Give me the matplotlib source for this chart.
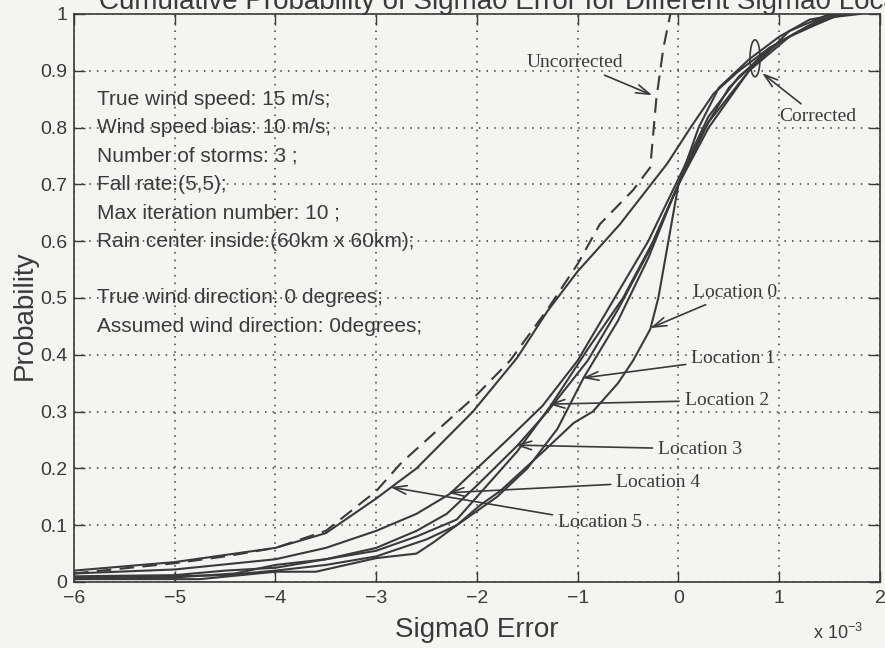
import matplotlib
matplotlib.use("Agg")
import matplotlib.pyplot as plt
from matplotlib.patches import Ellipse

# sigma0 error in units of 1e-3, cumulative probability
unc_x = [-6, -5, -4.5, -4, -3.5, -3, -2.75, -2.5, -2, -1.67, -1.3, -1.0, -0.78, -0.45, -0.28, -0.22, -0.15, -0.08]
unc_y = [0.015, 0.033, 0.045, 0.06, 0.09, 0.16, 0.21, 0.25, 0.33, 0.39, 0.48, 0.56, 0.63, 0.69, 0.73, 0.85, 0.94, 1.0]

loc0_x = [-6, -4.75, -4, -3.6, -3, -2.6, -2.43, -2.2, -1.97, -1.77, -1.34, -1.04, -0.85, -0.6, -0.45, -0.28, -0.2, -0.1, 0.0, 0.2, 0.4, 0.7, 1.0, 1.3, 1.6]
loc0_y = [0.005, 0.005, 0.018, 0.018, 0.042, 0.05, 0.07, 0.1, 0.135, 0.16, 0.23, 0.28, 0.3, 0.35, 0.39, 0.445, 0.5, 0.6, 0.7, 0.8, 0.87, 0.92, 0.96, 0.99, 1.0]

loc1_x = [-6, -5, -4.5, -4, -3.5, -3, -2.5, -2.2, -1.8, -1.5, -1.2, -0.94, -0.6, -0.3, -0.05, 0.2, 0.5, 0.9, 1.3, 1.6]
loc1_y = [0.008, 0.01, 0.012, 0.02, 0.03, 0.045, 0.075, 0.1, 0.15, 0.2, 0.27, 0.36, 0.46, 0.57, 0.68, 0.78, 0.87, 0.94, 0.98, 1.0]

loc2_x = [-6, -5, -4.4, -4, -3.5, -3, -2.6, -2.2, -1.9, -1.6, -1.27, -0.9, -0.55, -0.25, 0.0, 0.3, 0.7, 1.1, 1.5]
loc2_y = [0.005, 0.008, 0.015, 0.03, 0.04, 0.055, 0.08, 0.11, 0.17, 0.23, 0.31, 0.41, 0.5, 0.6, 0.7, 0.8, 0.9, 0.97, 1.0]

loc3_x = [-6, -5, -4.5, -4, -3.5, -3, -2.6, -2.3, -2.0, -1.6, -1.3, -0.9, -0.6, -0.3, 0.0, 0.3, 0.7, 1.1, 1.6]
loc3_y = [0.01, 0.012, 0.02, 0.025, 0.04, 0.06, 0.09, 0.12, 0.17, 0.24, 0.3, 0.39, 0.48, 0.58, 0.7, 0.81, 0.9, 0.96, 1.0]

loc4_x = [-6, -5, -4, -3.5, -3, -2.6, -2.27, -2.0, -1.7, -1.35, -1.0, -0.7, -0.3, 0.0, 0.3, 0.6, 1.0, 1.4, 1.7]
loc4_y = [0.015, 0.022, 0.04, 0.06, 0.09, 0.12, 0.155, 0.2, 0.25, 0.31, 0.39, 0.48, 0.6, 0.71, 0.82, 0.89, 0.95, 0.99, 1.0]

loc5_x = [-6, -5, -4, -3.5, -3, -2.6, -2.04, -1.6, -1.3, -1.0, -0.58, -0.11, 0.12, 0.35, 0.6, 0.9, 1.2, 1.55, 1.8]
loc5_y = [0.02, 0.035, 0.06, 0.086, 0.147, 0.2, 0.3, 0.395, 0.477, 0.547, 0.63, 0.737, 0.80, 0.86, 0.9, 0.94, 0.97, 0.995, 1.0]

info_lines = ["True wind speed: 15 m/s;", "Wind speed bias: 10 m/s;", "Number of storms: 3 ;",
              "Fall rate:(5,5);", "Max iteration number: 10 ;", "Rain center inside:(60km x 60km);",
              "True wind direction: 0 degrees;", "Assumed wind direction: 0degrees;"]
info_y = [0.85, 0.80, 0.75, 0.70, 0.65, 0.60, 0.50, 0.45]

# label text position, arrow head position
loc_labels = ["Location 0", "Location 1", "Location 2", "Location 3", "Location 4", "Location 5"]
label_xy = [(0.56, 0.51), (0.545, 0.394), (0.48, 0.32), (0.215, 0.234), (-0.2, 0.176), (-0.78, 0.104)]
head_xy = [(-0.28, 0.447), (-0.955, 0.359), (-1.29, 0.313), (-1.62, 0.241), (-2.29, 0.157), (-2.86, 0.167)]

ink = '#3a3a3a'
bg = '#f4f4f2'
plt.rcParams['font.family'] = ['Liberation Sans', 'DejaVu Sans']

fig = plt.figure(figsize=(8.85, 6.48), dpi=100, facecolor=bg)
ax = fig.add_axes([0.0836, 0.1019, 0.9107, 0.8765], facecolor=bg)

ax.plot(unc_x, unc_y, color=ink, lw=1.5, dashes=(7, 4))
for xs, ys in [(loc0_x, loc0_y), (loc1_x, loc1_y), (loc2_x, loc2_y),
               (loc3_x, loc3_y), (loc4_x, loc4_y), (loc5_x, loc5_y)]:
    ax.plot(xs, ys, color=ink, lw=1.5)

ax.set_xlim(-6, 2)
ax.set_ylim(0, 1)
ax.set_xticks(range(-6, 3))
ax.set_yticks([i / 10 for i in range(11)])
ax.set_yticklabels(['0'] + ['%.1f' % (i / 10) for i in range(1, 10)] + ['1'])
ax.tick_params(direction='in', length=8, width=1, top=True, right=True,
               labelsize=14, colors=ink)
ax.tick_params(axis='x', pad=6)
ax.tick_params(axis='y', pad=5)
ax.grid(True, color=ink, linestyle=(0, (1, 4)), linewidth=1.1)
for s in ax.spines.values():
    s.set_color(ink)
    s.set_linewidth(1.2)

ax.set_xlabel('Sigma0 Error', fontsize=20, color=ink)
ax.xaxis.set_label_coords(0.5, -0.062)
ax.set_ylabel('Probability', fontsize=20, color=ink)
ax.yaxis.set_label_coords(-0.045, 0.47)
ax.text(0.948, -0.09, r'x 10$^{\mathregular{-3}}$', transform=ax.transAxes,
        ha='center', va='center', fontsize=13, color=ink)

fig.text(99 / 885, 1 - 9 / 648,
         'Cumulative Probability of Sigma0 Error for Different Sigma0 Locations',
         ha='left', va='baseline', fontsize=20, color=ink)

for txt, yy in zip(info_lines, info_y):
    ax.text(-5.77, yy, txt, ha='left', va='center', fontsize=15, color=ink)

serif = ['Liberation Serif', 'DejaVu Serif']
arrow = dict(arrowstyle='->,head_length=0.7,head_width=0.22', color=ink, lw=1.2, shrinkA=2, shrinkB=0)
for txt, txy, hxy in zip(loc_labels, label_xy, head_xy):
    ax.annotate(txt, xy=hxy, xytext=txy, ha='center', va='center', fontsize=14,
                family=serif, color=ink, arrowprops=arrow)

ax.annotate('Uncorrected', xy=(-0.26, 0.857), xytext=(-1.025, 0.914), ha='center', va='center',
            fontsize=14, family=serif, color=ink, arrowprops=arrow)
ax.annotate('Corrected', xy=(0.83, 0.896), xytext=(1.38, 0.819), ha='center', va='center',
            fontsize=14, family=serif, color=ink, arrowprops=arrow)
ax.add_patch(Ellipse((0.76, 0.922), 0.1, 0.065, fill=False, edgecolor=ink, lw=1.2))

fig.savefig('out.png', dpi=100, facecolor=bg)
